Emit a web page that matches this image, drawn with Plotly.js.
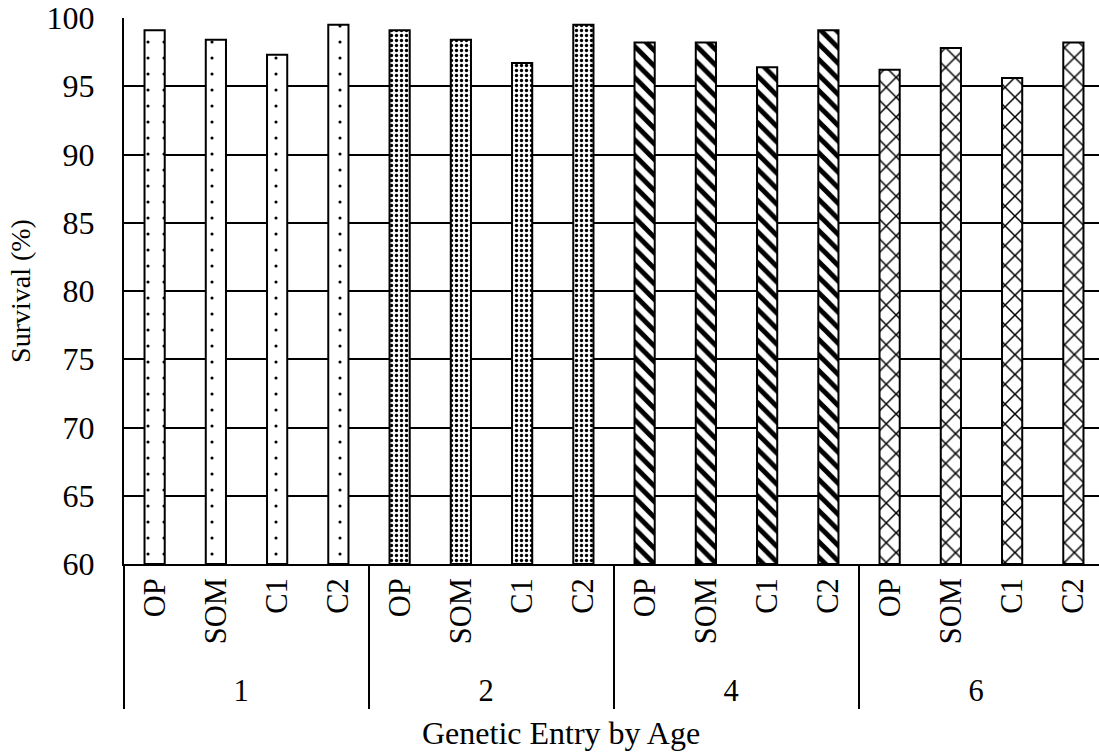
<!DOCTYPE html>
<html>
<head>
<meta charset="utf-8">
<script src="https://cdn.plot.ly/plotly-3.0.1.min.js"></script>
<style>
  html, body { margin: 0; padding: 0; overflow: hidden; background: #fff; }
  #chart { width: 1110px; height: 754px; }
</style>
</head>
<body>
<div id="chart"></div>
<script>
// Survival of each genetic entry, grouped by age
const ages = ['1', '2', '4', '6'];
const entries = ['OP', 'SOM', 'C1', 'C2'];
const survival = {
  '1': [99.1, 98.4, 97.3, 99.5],
  '2': [99.1, 98.4, 96.7, 99.5],
  '4': [98.2, 98.2, 96.4, 99.1],
  '6': [96.2, 97.8, 95.6, 98.2]
};
// Fill pattern used for each age group
const patternShape = ['.', '.', '\\', 'x'];
const patternSize = [16, 5, 11, 14];
const patternSolidity = [0.03, 0.35, 0.45, 0.2];

const xAge = [], xEntry = [], yVal = [], shp = [], sz = [], sol = [];
ages.forEach((a, gi) => {
  entries.forEach((e, ei) => {
    xAge.push(a);
    xEntry.push(e);
    yVal.push(survival[a][ei]);
    shp.push(patternShape[gi]);
    sz.push(patternSize[gi]);
    sol.push(patternSolidity[gi]);
  });
});

const font = '"Times New Roman", "Liberation Serif", serif';

// bars rise from the 60 % floor of the axis
const trace = {
  type: 'bar',
  x: [xAge, xEntry],
  y: yVal.map(v => v - 60),
  base: 60,
  marker: {
    color: '#ffffff',
    line: { color: '#000000', width: 2 },
    pattern: { shape: shp, size: sz, solidity: sol, fgcolor: '#000000', bgcolor: '#ffffff', fillmode: 'replace' }
  },
  hoverinfo: 'skip'
};

const layout = {
  width: 1110,
  height: 754,
  margin: { l: 124, r: 6, t: 18, b: 190 },
  paper_bgcolor: '#ffffff',
  plot_bgcolor: '#ffffff',
  bargap: 0.67,
  showlegend: false,
  font: { family: font, color: '#000000', size: 32 },
  xaxis: {
    type: 'multicategory',
    showline: true,
    linecolor: '#000000',
    linewidth: 2,
    showgrid: false,
    ticks: '',
    tickangle: -90,
    tickfont: { family: font, size: 30.5, color: '#000000' },
    showdividers: true,
    dividercolor: '#000000',
    dividerwidth: 2
  },
  yaxis: {
    range: [60, 100],
    tickvals: [60, 65, 70, 75, 80, 85, 90, 95, 100],
    showline: true,
    linecolor: '#000000',
    linewidth: 2,
    showgrid: true,
    gridcolor: '#000000',
    gridwidth: 2,
    zeroline: false,
    ticks: '',
    ticklabelstandoff: 21,
    tickfont: { family: font, size: 32, color: '#000000' },
    title: { text: 'Survival (%)', font: { family: font, size: 28, color: '#000000' }, standoff: 8 }
  },
  // axis caption, centred under the whole chart area
  annotations: [{
    text: 'Genetic Entry by Age',
    xref: 'paper', yref: 'paper',
    x: 0.446, y: -0.31,
    xanchor: 'center', yanchor: 'middle',
    showarrow: false,
    font: { family: font, size: 32, color: '#000000' }
  }]
};

Plotly.newPlot('chart', [trace], layout, { displayModeBar: false, staticPlot: true });
</script>
</body>
</html>
